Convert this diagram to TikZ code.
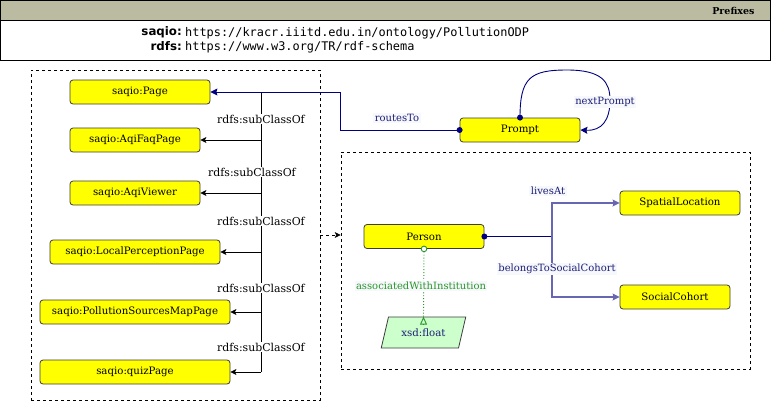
\documentclass[tikz,border=0pt]{standalone}
\usepackage{fontspec}
\setmainfont{DejaVu Serif}
\newfontfamily\monof{DejaVu Sans Mono}
\newfontfamily\sansf{DejaVu Sans}
\usetikzlibrary{arrows.meta,shapes.geometric}
\definecolor{hdr}{RGB}{187,187,162}
\definecolor{navyc}{RGB}{0,0,128}
\definecolor{labnavy}{RGB}{30,30,120}
\definecolor{grn}{RGB}{40,150,40}
\definecolor{lgreen}{RGB}{204,255,204}
\definecolor{bord}{RGB}{60,60,60}
\definecolor{labbg}{RGB}{246,248,252}
\definecolor{clsyellow}{RGB}{255,255,0}
\begin{document}
\begin{tikzpicture}[x=1pt,y=-1pt,
  cls/.style={draw=bord, fill=clsyellow, rounded corners=3pt, minimum height=24pt, inner sep=0pt, line width=0.8pt, font=\fontsize{10.2}{12}\selectfont},
  sublab/.style={fill=white, inner sep=1pt, font=\fontsize{10.9}{12}\selectfont},
  sub/.style={-{Stealth[length=6pt,width=6pt,inset=1.5pt]}, black, line width=0.8pt},
  prop/.style={navyc, line width=0.9pt},
  ptip/.style={-{Stealth[length=7pt,width=7pt,inset=1pt]}},
  plab/.style={fill=labbg, text=labnavy, inner sep=1.5pt, font=\fontsize{10}{12}\selectfont},
  grp/.style={draw, dashed, line width=0.7pt, inner sep=0pt},
]
\useasboundingbox (0,0) rectangle (771,402);
% header
\fill[hdr] (0.5,0.5) rectangle (770.5,20);
\draw[line width=0.8pt] (0.5,20) -- (770.5,20);
\draw[line width=0.8pt] (0.5,0.5) rectangle (770.5,60.5);
\node[anchor=east, font=\fontsize{9.5}{11}\selectfont\bfseries] (prefixes) at (758,11) {Prefixes};
\node[anchor=east, inner sep=0pt, font=\sansf\fontsize{11.8}{13}\selectfont\bfseries] (pfx1) at (182,32) {saqio:};
\node[anchor=west, inner sep=0pt, font=\monof\fontsize{11.9}{13}\selectfont] (uri1) at (185,33) {https://kracr.iiitd.edu.in/ontology/PollutionODP};
\node[anchor=east, inner sep=0pt, font=\sansf\fontsize{11.8}{13}\selectfont\bfseries] (pfx2) at (182,46) {rdfs:};
\node[anchor=west, inner sep=0pt, font=\monof\fontsize{11.9}{13}\selectfont] (uri2) at (185,47.5) {https://www.w3.org/TR/rdf-schema};

% groups
\node[grp, minimum width=289pt, minimum height=330pt] (leftgrp) at (175.5,235) {};
\node[grp, minimum width=409pt, minimum height=217pt] (rightgrp) at (545.5,260.5) {};
\draw[dashed, line width=0.7pt, -{Stealth[length=6pt,width=6pt,inset=1.5pt]}] (leftgrp.east) -- (rightgrp.west |- leftgrp.east);

% class nodes
\node[cls, minimum width=140pt] (page) at (140,92) {saqio:Page};
\node[cls, minimum width=130pt] (faq) at (135,140) {saqio:AqiFaqPage};
\node[cls, minimum width=130pt] (viewer) at (135,193) {saqio:AqiViewer};
\node[cls, minimum width=170pt] (local) at (135,252) {saqio:LocalPerceptionPage};
\node[cls, minimum width=190pt] (sources) at (135,312) {saqio:PollutionSourcesMapPage};
\node[cls, minimum width=190pt] (quiz) at (135,372) {saqio:quizPage};

\node[cls, minimum width=120pt] (prompt) at (520,130) {Prompt};
\node[cls, minimum width=120pt] (person) at (424,236.5) {Person};
\node[cls, minimum width=120pt] (spatial) at (680,203) {SpatialLocation};
\node[cls, minimum width=110pt] (cohort) at (675,297) {SocialCohort};
\node[draw=bord, fill=lgreen, line width=0.8pt, trapezium, trapezium left angle=60, trapezium right angle=120, trapezium stretches=true, minimum width=85pt, minimum height=31pt, inner sep=0pt, text=labnavy, font=\fontsize{10.2}{12}\selectfont] (float) at (423.5,332.5) {xsd:float};

% subclass trunk
\coordinate (trunktop) at (261,92);
\coordinate (trunkbot) at (261,372);
\draw[line width=0.8pt] (trunktop) -- (trunkbot);
\foreach \n in {faq,viewer,local,sources,quiz}{
  \draw[sub] (trunkbot |- \n.east) -- (\n.east);
}
\node[sublab] (sl1) at (261,119) {rdfs:subClassOf};
\node[sublab] (sl2) at (252,172) {rdfs:subClassOf};
\node[sublab] (sl3) at (261,221) {rdfs:subClassOf};
\node[sublab] (sl4) at (261,288) {rdfs:subClassOf};
\node[sublab] (sl5) at (261,347) {rdfs:subClassOf};

% routesTo
\coordinate (routex) at (340,0);
\draw[prop, ptip] (prompt.west) -- (prompt.west -| routex) |- (page.east);
\fill[navyc] (prompt.west) circle (3pt);
\node[plab] (routeslab) at (397,118) {routesTo};

% nextPrompt
\draw[prop, ptip] (prompt.north) .. controls (520,78) and (530,70) .. (567,70) .. controls (602,70) and (610,82) .. (610,100) .. controls (610,120) and (602,131) .. (prompt.east);
\fill[navyc] (prompt.north) circle (3pt);
\node[plab] (nextlab) at (605,102) {nextPrompt};

% person properties
\coordinate (junc) at (552,236.5);
\draw[navyc, line width=1.6pt] (person.east) -- (junc);
\fill[navyc] (person.east) circle (3pt);
\draw[navyc!60, line width=1.2pt, ptip] (junc) |- (spatial.west);
\draw[navyc!60, line width=1.2pt, ptip] (junc) |- (cohort.west);
\node[plab] (liveslab) at (548,191) {livesAt};
\node[plab] (cohortlab) at (557,269) {belongsToSocialCohort};

% associatedWithInstitution
\draw[grn, line width=0.9pt, dotted] (person.south) -- (float.north);
\draw[grn, line width=0.9pt, fill=white] (person.south) circle (2.8pt);
\draw[grn, line width=0.9pt, -{Triangle[open,length=8pt,width=7pt]}] ([yshift=-8pt]float.north) -- (float.north);
\node[plab, text=grn] (assoclab) at (421,286) {associatedWithInstitution};
\end{tikzpicture}
\end{document}
